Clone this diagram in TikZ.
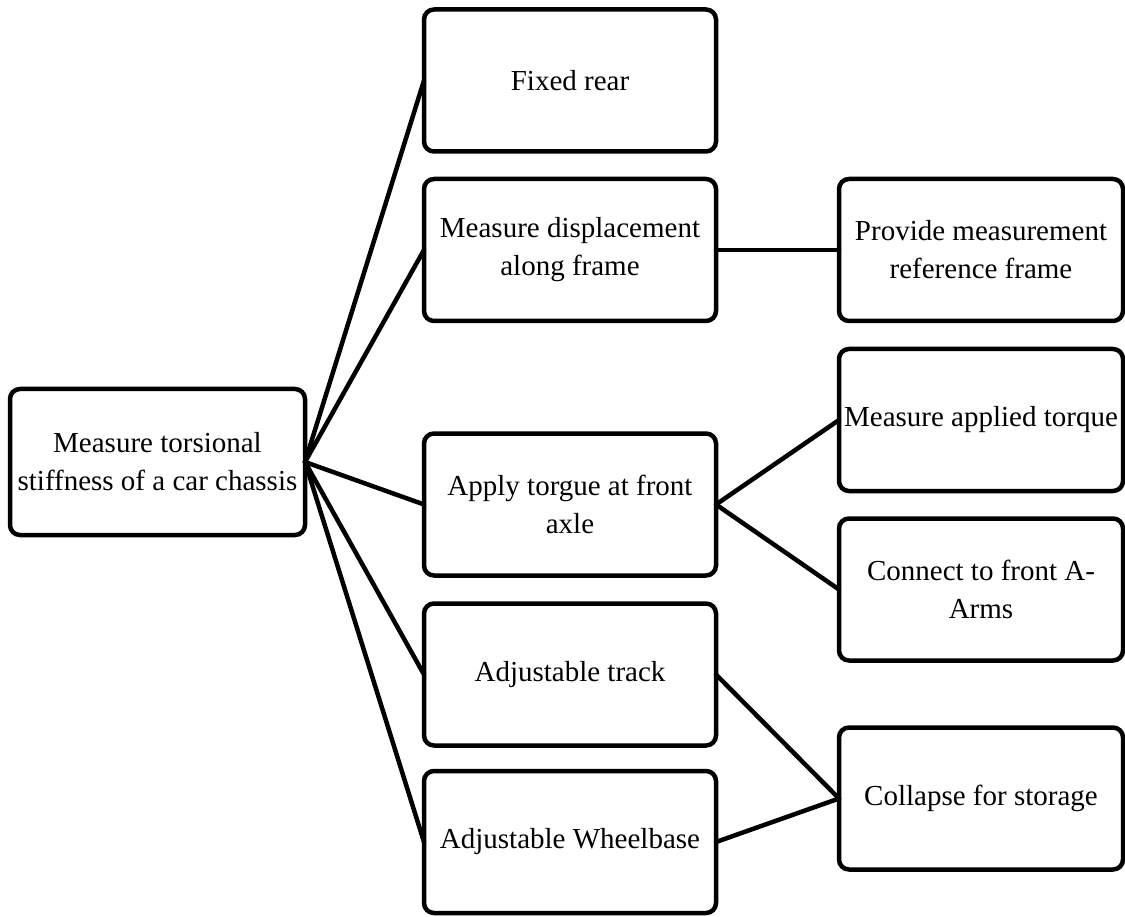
\documentclass[tikz,border=0pt]{standalone}
\usepackage{fontspec}
\setmainfont{Liberation Serif}
\begin{document}
\begin{tikzpicture}[x=1pt,y=-1pt,
  box/.style={draw=black, line width=4.5pt, rounded corners=10pt, fill=white,
    align=center, inner sep=2pt, outer sep=0pt,
    font=\fontsize{29}{38}\selectfont},
  lbox/.style={box, minimum width=292pt, minimum height=142pt},
  rbox/.style={box, minimum width=284pt, minimum height=142pt},
  link/.style={line width=4.5pt, line cap=round}]
\useasboundingbox (0,0) rectangle (1125,917);
\node[box, minimum width=295pt, minimum height=146pt] (root) at (157.5,462) {Measure torsional\\stiffness of a car chassis};
\node[lbox] (fixed) at (570,80.5) {Fixed rear};
\node[lbox] (disp) at (570,250) {Measure displacement\\along frame};
\node[lbox] (apply) at (570,504.5) {Apply torgue at front\\axle};
\node[lbox] (track) at (570,674.5) {Adjustable track};
\node[lbox] (wheel) at (570,842) {Adjustable Wheelbase};
\node[rbox] (prov) at (981,250) {Provide measurement\\reference frame};
\node[rbox] (torq) at (981,420) {Measure applied torque};
\node[rbox] (arms) at (981,589.5) {Connect to front A-\\Arms};
\node[rbox] (coll) at (981,798.5) {Collapse for storage};
\draw[link] (root.east) -- (fixed.west);
\draw[link] (root.east) -- (disp.west);
\draw[link] (root.east) -- (apply.west);
\draw[link] (root.east) -- (track.west);
\draw[link] (root.east) -- (wheel.west);
\draw[link] (disp.east) -- (prov.west);
\draw[link] (apply.east) -- (torq.west);
\draw[link] (apply.east) -- (arms.west);
\draw[link] (track.east) -- (coll.west);
\draw[link] (wheel.east) -- (coll.west);
\end{tikzpicture}
\end{document}
